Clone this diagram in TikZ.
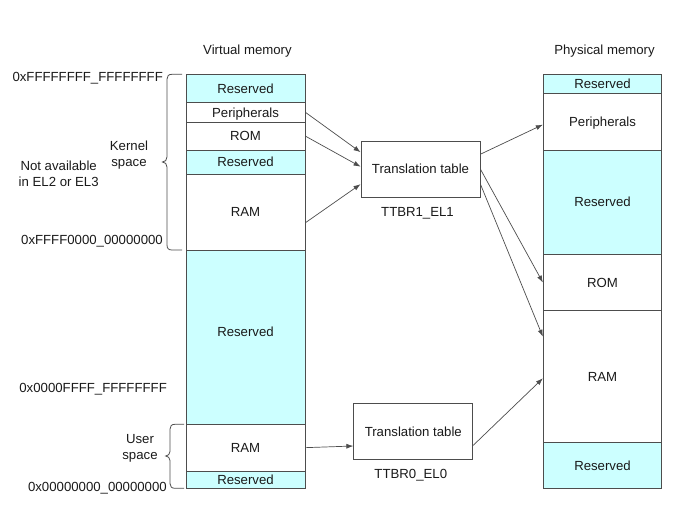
\documentclass[tikz,border=0pt]{standalone}
\usepackage{fontspec}
\setmainfont{Liberation Sans}
\usetikzlibrary{arrows.meta, positioning}
\definecolor{MemCyan}{HTML}{CCFFFF}
\definecolor{MemLine}{HTML}{4D4D4D}
\definecolor{MemText}{HTML}{1A1A1A}
\tikzset{
    % Memory blocks - sharp corners, shared borders
    block/.style={
        rectangle,
        draw=MemLine,
        fill=white,
        line width=0.9pt,
        inner sep=0pt,
        text height=9.5pt,
        text depth=0pt,
        align=center
    },
    vblock/.style={block, minimum width=119pt},
    pblock/.style={block, minimum width=118.4pt},
    reserved/.style={fill=MemCyan},
    ttable/.style={
        block,
        minimum width=119pt,
        minimum height=56.5pt
    },
    % Text styles
    addr/.style={anchor=base east, inner sep=0pt},
    note/.style={align=center, inner sep=0pt},
    % Arrow and brace styles
    arrow/.style={
        -{Latex[length=7pt,width=5pt]},
        line width=0.7pt,
        draw=MemLine
    },
    bracket/.style={
        line width=0.8pt,
        draw=MemLine
    }
}
\begin{document}
\begin{tikzpicture}[x=1pt, y=-1pt, text=MemText, font=\fontsize{13.2}{16}\selectfont]
    \useasboundingbox (0,0) rectangle (684,511);

    % Titles
    \node[note] (vtitle) at (247.5,51) {Virtual memory};
    \node[note] (ptitle) at (604.5,51) {Physical memory};

    % Virtual memory map
    \node[vblock, reserved, minimum height=28.4pt] (vres1) at (245.5,88.5) {Reserved};
    \node[vblock, minimum height=19.3pt] (vper) at (245.5,112.35) {Peripherals};
    \node[vblock, minimum height=28.3pt] (vrom) at (245.5,136.15) {ROM};
    \node[vblock, reserved, minimum height=23.7pt] (vres2) at (245.5,162.15) {Reserved};
    \node[vblock, minimum height=76pt] (vram) at (245.5,212) {RAM};
    \node[vblock, reserved, minimum height=174.3pt] (vres3) at (245.5,337.15) {\raisebox{5.5pt}{Reserved}};
    \node[vblock, minimum height=46.7pt] (vuram) at (245.5,447.65) {RAM};
    \node[vblock, reserved, minimum height=17.3pt] (vres4) at (245.5,479.65) {Reserved};

    % Physical memory map
    \node[pblock, reserved, minimum height=19pt] (pres1) at (602.5,83.8) {Reserved};
    \node[pblock, minimum height=56.7pt] (pper) at (602.5,121.65) {Peripherals};
    \node[pblock, reserved, minimum height=104.3pt] (pres2) at (602.5,202.15) {Reserved};
    \node[pblock, minimum height=56.4pt] (prom) at (602.5,282.5) {ROM};
    \node[pblock, minimum height=132pt] (pram) at (602.5,376.7) {RAM};
    \node[pblock, reserved, minimum height=45.6pt] (pres3) at (602.5,465.5) {Reserved};

    % Translation tables
    \node[ttable] (tt1) at (420.5,169.2) {Translation table};
    \node[below=9pt of tt1, xshift=-3pt, inner sep=0pt] (tt1name) {TTBR1\_EL1};
    \node[ttable] (tt0) at (413.3,431.3) {Translation table};
    \node[below=9pt of tt0, xshift=-2.5pt, inner sep=0pt] (tt0name) {TTBR0\_EL0};

    % Addresses and notes
    \node[addr] (atop) at (163,81.5) {0xFFFFFFFF\_FFFFFFFF};
    \node[addr] (akern) at (163,244) {0xFFFF0000\_00000000};
    \node[addr] (auser) at (167,392) {0x0000FFFF\_FFFFFFFF};
    \node[addr] (azero) at (167,491.5) {0x00000000\_00000000};
    \node[note] (kernel) at (129,155) {Kernel\\space};
    \node[note] (notel2) at (58.7,174) {Not available\\in EL2 or EL3};
    \node[note] (user) at (140,448) {User\\space};

    % Braces
    \draw[bracket] (182,74.3) -- (172,74.3) .. controls (168.5,74.3) and (167,76) .. (167,79)
        -- (167,157) .. controls (167,160) and (165,162) .. (162.5,162)
        .. controls (165,162) and (167,164) .. (167,167)
        -- (167,245) .. controls (167,248.5) and (168.5,250) .. (172,250) -- (182,250);
    \draw[bracket] (184,424.3) -- (175,424.3) .. controls (171.5,424.3) and (170,426) .. (170,429)
        -- (170,451.5) .. controls (170,454) and (168,456) .. (165.7,456)
        .. controls (168,456) and (170,458) .. (170,460.5)
        -- (170,483.5) .. controls (170,486.5) and (171.5,488.3) .. (175,488.3) -- (184,488.3);

    % Kernel mappings
    \draw[arrow] (vper.east) -- ([yshift=17pt]tt1.west);
    \draw[arrow] (vrom.east) -- ([yshift=2.5pt]tt1.west);
    \draw[arrow] ([yshift=-10.7pt]vram.east) -- ([yshift=-15pt]tt1.west);
    \draw[arrow] ([yshift=15pt]tt1.east) -- ([yshift=-3pt]pper.west);
    \draw[arrow] (tt1.east) -- (prom.west);
    \draw[arrow] ([yshift=-15pt]tt1.east) -- ([yshift=40pt]pram.west);

    % User mappings
    \draw[arrow] (vuram.east) -- ([yshift=-14.7pt]tt0.west);
    \draw[arrow] ([yshift=-14pt]tt0.east) -- ([yshift=-1.6pt]pram.west);
\end{tikzpicture}
\end{document}
